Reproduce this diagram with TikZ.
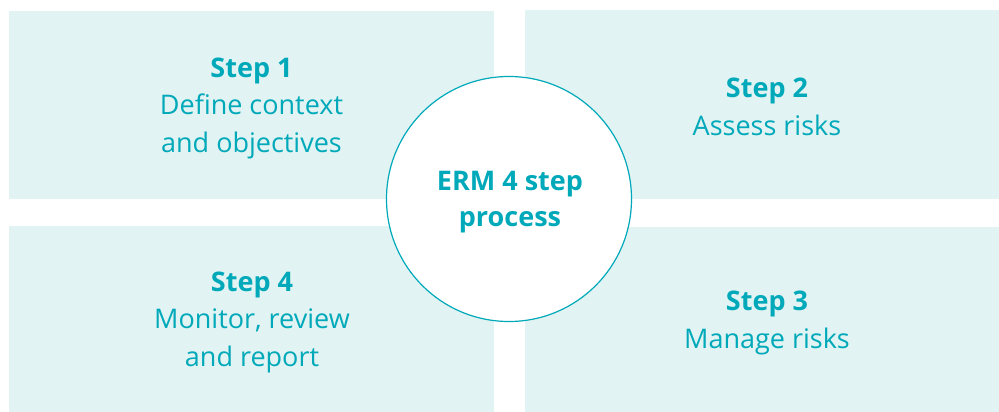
\documentclass[tikz,border=0pt]{standalone}
\usepackage{fontspec,xcolor,tikz}
\setmainfont{Open Sans}
\usetikzlibrary{shapes,positioning}
\definecolor{ermfill}{HTML}{E1F3F3}
\definecolor{ermteal}{HTML}{00A9B9}

\begin{document}
\begin{tikzpicture}[x=1pt,y=-1pt]
            \tikzstyle{stepbox}=[rectangle,fill=ermfill,inner sep=0pt]
            \tikzstyle{steptext}=[align=center,text=ermteal,font=\fontsize{27}{37.5}\selectfont]
            \tikzstyle{hub}=[circle,draw=ermteal,line width=1.2pt,fill=white,minimum size=245pt,inner sep=0pt]

            \useasboundingbox (0,0) rectangle (999,412);

            % the four quarters
            \node[stepbox,minimum width=485pt,minimum height=188pt] (q1) at (251.5,105) {};
            \node[stepbox,minimum width=474pt,minimum height=189pt] (q2) at (762,104.5) {};
            \node[stepbox,minimum width=485pt,minimum height=186pt] (q4) at (251.5,319) {};
            \node[stepbox,minimum width=474pt,minimum height=185pt] (q3) at (762,319.5) {};

            % step texts
            \node[steptext] (t1) at (251.5,108) {\textbf{Step 1}\\Define context\\and objectives};
            \node[steptext] (t2) at (767,107) {\textbf{Step 2}\\Assess risks};
            \node[steptext] (t3) at (767,323) {\textbf{Step 3}\\Manage risks};
            \node[steptext] (t4) at (252,322) {\textbf{Step 4}\\Monitor, review\\and report};

            % centre
            \node[hub] (erm) at (509,199) {};
            \node[steptext,font=\bfseries\fontsize{27}{36}\selectfont] (ermtext) at (510,202) {ERM 4 step\\process};
\end{tikzpicture}
\end{document}
